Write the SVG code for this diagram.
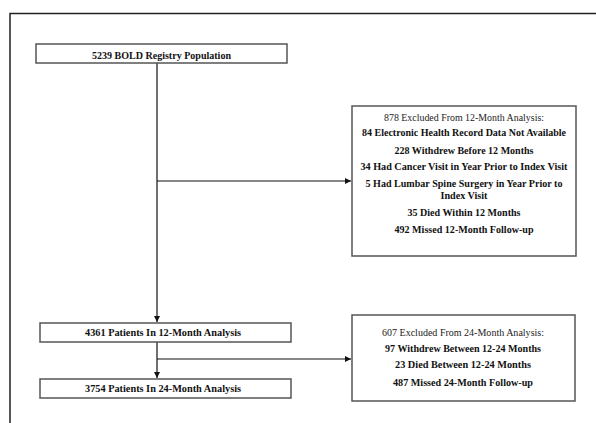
<svg xmlns="http://www.w3.org/2000/svg" width="596" height="423" viewBox="0 0 596 423">
<style>
text{font-family:"Liberation Serif","Times New Roman",serif;font-size:10.5px;fill:#111;text-anchor:middle;font-weight:bold}
text.t{font-weight:normal;fill:#222}
.box{fill:#fff;stroke:#555;stroke-width:1.5}
.ln{stroke:#111;stroke-width:1.2;fill:none}
</style>
<defs>
<marker id="ah" viewBox="0 0 6 6" refX="6" refY="3" markerWidth="6" markerHeight="6" markerUnits="userSpaceOnUse" orient="auto">
<path d="M0,0 L6,3 L0,6 z" fill="#111"/>
</marker>
</defs>
<rect width="596" height="423" fill="#fff"/>
<path d="M10,423 V13.5 H600" fill="none" stroke="#222" stroke-width="1.5"/>
<g id="connectors">
<line class="ln" x1="157" y1="63" x2="157" y2="322" marker-end="url(#ah)"/>
<line class="ln" x1="157" y1="181" x2="351" y2="181" marker-end="url(#ah)"/>
<line class="ln" x1="157" y1="342" x2="157" y2="378" marker-end="url(#ah)"/>
<line class="ln" x1="157" y1="359" x2="351" y2="359" marker-end="url(#ah)"/>
</g>
<g id="n_bold">
<rect class="box" x="36" y="44" width="251" height="19"/>
<text x="161.5" y="58.5" textLength="139" lengthAdjust="spacingAndGlyphs">5239 BOLD Registry Population</text>
</g>
<g id="n_ex12">
<rect class="box" x="352" y="106" width="224" height="150"/>
<text class="t" x="464" y="120.5" textLength="160" lengthAdjust="spacingAndGlyphs">878 Excluded From 12-Month Analysis:</text>
<text x="464" y="135.5" textLength="204" lengthAdjust="spacingAndGlyphs">84 Electronic Health Record Data Not Available</text>
<text x="464" y="153.5" textLength="139" lengthAdjust="spacingAndGlyphs">228 Withdrew Before 12 Months</text>
<text x="464" y="169.5" textLength="207" lengthAdjust="spacingAndGlyphs">34 Had Cancer Visit in Year Prior to Index Visit</text>
<text x="464" y="186.5" textLength="197" lengthAdjust="spacingAndGlyphs">5 Had Lumbar Spine Surgery in Year Prior to</text>
<text x="464" y="198.5" textLength="47" lengthAdjust="spacingAndGlyphs">Index Visit</text>
<text x="464" y="215.5" textLength="113" lengthAdjust="spacingAndGlyphs">35 Died Within 12 Months</text>
<text x="464" y="232.5" textLength="139" lengthAdjust="spacingAndGlyphs">492 Missed 12-Month Follow-up</text>
</g>
<g id="n_12m">
<rect class="box" x="40" y="323" width="251" height="19"/>
<text x="163" y="336" textLength="156" lengthAdjust="spacingAndGlyphs">4361 Patients In 12-Month Analysis</text>
</g>
<g id="n_ex24">
<rect class="box" x="352" y="315" width="223" height="86"/>
<text class="t" x="463" y="335.5" textLength="162" lengthAdjust="spacingAndGlyphs">607 Excluded From 24-Month Analysis:</text>
<text x="463" y="351.5" textLength="156" lengthAdjust="spacingAndGlyphs">97 Withdrew Between 12-24 Months</text>
<text x="463" y="367.5" textLength="136" lengthAdjust="spacingAndGlyphs">23 Died Between 12-24 Months</text>
<text x="463" y="385.5" textLength="140" lengthAdjust="spacingAndGlyphs">487 Missed 24-Month Follow-up</text>
</g>
<g id="n_24m">
<rect class="box" x="40" y="379" width="251" height="19"/>
<text x="163" y="391.5" textLength="156" lengthAdjust="spacingAndGlyphs">3754 Patients In 24-Month Analysis</text>
</g>
</svg>
